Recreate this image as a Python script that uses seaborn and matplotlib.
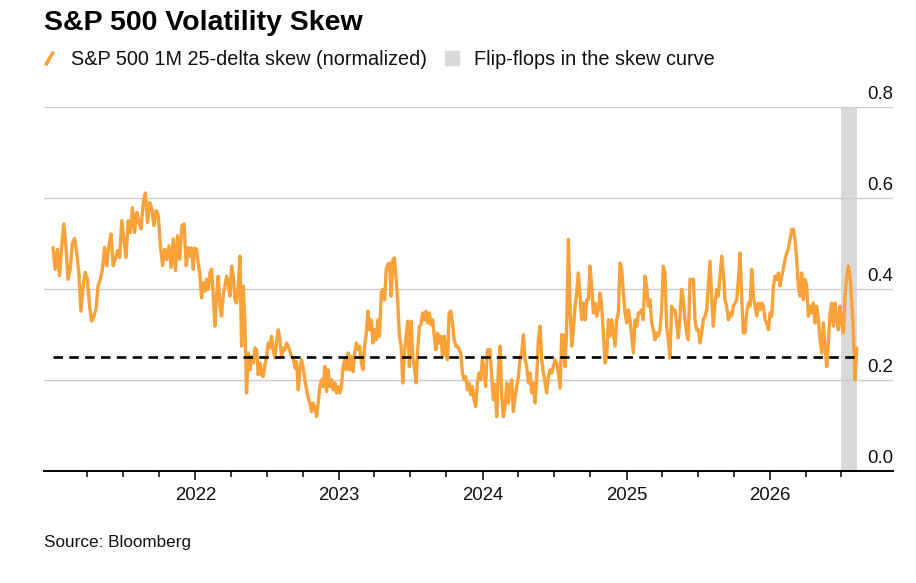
import numpy as np
import pandas as pd
import matplotlib
matplotlib.use("Agg")
import matplotlib.pyplot as plt
import matplotlib.transforms as mtransforms
from matplotlib.lines import Line2D
import seaborn as sns

# ---------------- data ----------------
title = "S&P 500 Volatility Skew"
series_label = "S&P 500 1M 25-delta skew (normalized)"
band_label = "Flip-flops in the skew curve"
source = "Source: Bloomberg"

seg_a_dates = ("2021-01-04", "2021-12-14")
seg_a = [0.491, 0.443, 0.487, 0.429, 0.491, 0.543, 0.495, 0.421, 0.443, 0.499,
         0.511, 0.48, 0.436, 0.351, 0.407, 0.436, 0.421, 0.362, 0.329, 0.34,
         0.355, 0.407, 0.421, 0.443, 0.491, 0.451, 0.495, 0.521, 0.451, 0.465,
         0.484, 0.469, 0.55, 0.51, 0.469, 0.55, 0.524, 0.579, 0.524, 0.568,
         0.546, 0.532, 0.59, 0.611, 0.546, 0.59, 0.576, 0.539, 0.572, 0.561,
         0.495, 0.451, 0.487, 0.465, 0.495, 0.447, 0.51, 0.44, 0.517, 0.465,
         0.539, 0.543, 0.451, 0.491]

seg_b_dates = ("2021-12-18", "2022-12-30")
seg_b = [0.472, 0.49, 0.443, 0.49, 0.487, 0.457, 0.43, 0.38, 0.413, 0.395,
         0.421, 0.399, 0.435, 0.443, 0.384, 0.318, 0.384, 0.428, 0.362, 0.34,
         0.387, 0.406, 0.428, 0.413, 0.384, 0.45, 0.428, 0.376, 0.369, 0.406,
         0.472, 0.274, 0.406, 0.325, 0.171, 0.259, 0.222, 0.251, 0.237, 0.27,
         0.266, 0.211, 0.237, 0.211, 0.207, 0.233, 0.251, 0.281, 0.27, 0.296,
         0.266, 0.248, 0.281, 0.31, 0.288, 0.251, 0.27, 0.266, 0.281, 0.274,
         0.263, 0.251, 0.248, 0.226, 0.24, 0.178, 0.222, 0.244, 0.226, 0.2,
         0.178, 0.16, 0.149, 0.13, 0.149, 0.138, 0.119, 0.149, 0.185, 0.2,
         0.185, 0.229, 0.174, 0.222, 0.185, 0.2, 0.178, 0.193, 0.171, 0.185]

seg_c_dates = ("2023-01-03", "2024-01-13")
seg_c = [0.171, 0.185, 0.229, 0.244, 0.222, 0.259, 0.222, 0.251, 0.218, 0.259,
         0.281, 0.266, 0.274, 0.237, 0.222, 0.274, 0.303, 0.351, 0.31, 0.332,
         0.281, 0.31, 0.288, 0.332, 0.296, 0.391, 0.399, 0.376, 0.443, 0.454,
         0.457, 0.384, 0.465, 0.468, 0.421, 0.369, 0.296, 0.274, 0.193, 0.259,
         0.296, 0.329, 0.229, 0.329, 0.251, 0.229, 0.193, 0.266, 0.318, 0.321,
         0.347, 0.332, 0.351, 0.325, 0.347, 0.321, 0.332, 0.296, 0.266, 0.303,
         0.281, 0.296, 0.251, 0.296, 0.259, 0.244, 0.347, 0.351, 0.325, 0.288,
         0.274, 0.274, 0.266, 0.259, 0.215, 0.2, 0.207, 0.178, 0.193, 0.167,
         0.185, 0.156, 0.141, 0.193, 0.215, 0.2, 0.244, 0.222, 0.185, 0.266]

seg_d_dates = ("2024-01-20", "2025-01-31")
seg_d = [0.266, 0.207, 0.156, 0.19, 0.119, 0.222, 0.274, 0.163, 0.119, 0.141,
         0.193, 0.149, 0.185, 0.2, 0.13, 0.163, 0.185, 0.207, 0.244, 0.259,
         0.299, 0.244, 0.229, 0.193, 0.215, 0.171, 0.193, 0.149, 0.207, 0.288,
         0.318, 0.244, 0.215, 0.193, 0.171, 0.207, 0.222, 0.215, 0.229, 0.244,
         0.237, 0.215, 0.182, 0.299, 0.299, 0.229, 0.318, 0.509, 0.36, 0.274,
         0.31, 0.362, 0.391, 0.435, 0.384, 0.332, 0.369, 0.332, 0.376, 0.376,
         0.45, 0.406, 0.347, 0.369, 0.34, 0.354, 0.391, 0.362, 0.303, 0.237,
         0.251, 0.332, 0.296, 0.332, 0.303, 0.274, 0.332, 0.347, 0.457, 0.443,
         0.391, 0.347, 0.325, 0.354, 0.332, 0.296, 0.259, 0.332, 0.318, 0.347]

seg_e_dates = ("2025-02-04", "2026-01-22")
seg_e = [0.347, 0.354, 0.332, 0.428, 0.406, 0.362, 0.376, 0.325, 0.31, 0.288,
         0.303, 0.296, 0.31, 0.354, 0.45, 0.435, 0.318, 0.288, 0.248, 0.362,
         0.354, 0.354, 0.325, 0.292, 0.34, 0.399, 0.376, 0.332, 0.303, 0.288,
         0.421, 0.421, 0.421, 0.332, 0.31, 0.31, 0.281, 0.303, 0.332, 0.34,
         0.354, 0.406, 0.461, 0.38, 0.318, 0.369, 0.399, 0.384, 0.428, 0.472,
         0.435, 0.376, 0.362, 0.332, 0.347, 0.34, 0.362, 0.369, 0.376, 0.421,
         0.479, 0.38, 0.303, 0.303, 0.347, 0.369, 0.362, 0.443, 0.384, 0.362,
         0.34, 0.369, 0.354, 0.369, 0.362, 0.332, 0.325, 0.31, 0.347, 0.34,
         0.406, 0.428, 0.421, 0.435]

seg_f_dates = ("2026-01-26", "2026-08-09")
seg_f = [0.406, 0.428, 0.443, 0.465, 0.479, 0.487, 0.509, 0.531, 0.531, 0.509,
         0.465, 0.406, 0.384, 0.435, 0.376, 0.421, 0.406, 0.34, 0.362, 0.347,
         0.369, 0.325, 0.362, 0.332, 0.288, 0.259, 0.325, 0.274, 0.229, 0.281,
         0.347, 0.369, 0.318, 0.369, 0.332, 0.31, 0.362, 0.325, 0.303, 0.384,
         0.428, 0.45, 0.428, 0.376, 0.303, 0.2, 0.27]

threshold = 0.25
band_start, band_end = "2026-07-01", "2026-08-11"
x_range = ("2020-12-12", "2026-11-10")
year_ticks = ["2022-01-01", "2023-01-01", "2024-01-01", "2025-01-01", "2026-01-01"]
year_labels = ["2022", "2023", "2024", "2025", "2026"]
quarter_ticks = ["2021-04-01", "2021-07-01", "2021-10-01",
                 "2022-04-01", "2022-07-01", "2022-10-01",
                 "2023-04-01", "2023-07-01", "2023-10-01",
                 "2024-04-01", "2024-07-01", "2024-10-01",
                 "2025-04-01", "2025-07-01", "2025-10-01",
                 "2026-04-01", "2026-07-01"]
y_ticks = [0.0, 0.2, 0.4, 0.6, 0.8]
y_labels = ["0.0", "0.2", "0.4", "0.6", "0.8"]

# ---------------- build frame ----------------
segments = [(seg_a_dates, seg_a), (seg_b_dates, seg_b), (seg_c_dates, seg_c),
            (seg_d_dates, seg_d), (seg_e_dates, seg_e), (seg_f_dates, seg_f)]
frames = []
for (d0, d1), vals in segments:
    frames.append(pd.DataFrame({"date": pd.date_range(d0, d1, periods=len(vals)),
                                "skew": vals}))
df = pd.concat(frames, ignore_index=True)

# ---------------- style ----------------
sns.set_style("white")
plt.rcParams["font.family"] = ["Liberation Sans", "DejaVu Sans"]
ORANGE = "#F9A23A"
GREY = "#D9D9D9"
TXT = "#111111"

fig = plt.figure(figsize=(9.16, 5.83), dpi=100)
ax = fig.add_axes([0.048, 0.1926, 0.9272, 0.6238])

ax.axvspan(pd.Timestamp(band_start), pd.Timestamp(band_end), color=GREY, lw=0, zorder=0)
for v in y_ticks[1:]:
    ax.axhline(v, color="#CCCCCC", lw=1.0, zorder=1)

sns.lineplot(data=df, x="date", y="skew", ax=ax, color=ORANGE, lw=2.4,
             estimator=None, errorbar=None, zorder=3)
ax.hlines(threshold, df["date"].min(), df["date"].max(), colors="black",
          linestyles=(0, (3.6, 2.4)), lw=1.9, zorder=4)

ax.set_xlim(pd.Timestamp(x_range[0]), pd.Timestamp(x_range[1]))
ax.set_ylim(0, 0.8)
ax.set_xlabel("")
ax.set_ylabel("")
ax.set_yticks([])
ax.set_xticks(pd.to_datetime(year_ticks))
ax.set_xticklabels(year_labels, fontsize=13.4, color=TXT)
ax.set_xticks(pd.to_datetime(quarter_ticks), minor=True)
ax.tick_params(axis="x", which="major", direction="out", length=6.5, width=1.1,
               color="black", pad=5, bottom=True)
ax.tick_params(axis="x", which="minor", direction="out", length=4.3, width=1.1,
               color="black", bottom=True)
for s in ["top", "left", "right"]:
    ax.spines[s].set_visible(False)
ax.spines["bottom"].set_color("black")
ax.spines["bottom"].set_linewidth(1.4)
ax.spines["bottom"].set_zorder(5)

ytrans = mtransforms.offset_copy(ax.get_yaxis_transform(), fig=fig, y=3, units="points")
for v, lab in zip(y_ticks, y_labels):
    ax.text(1.0, v, lab, transform=ytrans, ha="right", va="bottom",
            fontsize=13.4, color=TXT)

fig.text(0.048, 0.9485, title, fontsize=20.5, fontweight="bold", color="black",
         va="baseline", ha="left")

handles = [Line2D([0], [0], color=ORANGE, lw=0, marker=(2, 2, -30),
                  markersize=11, markeredgewidth=2.2),
           Line2D([0], [0], color=GREY, lw=0, marker="s", markersize=10)]
fig.legend(handles, [series_label, band_label], loc="upper left",
           bbox_to_anchor=(0.044, 0.915), ncol=2, frameon=False, fontsize=14.3,
           handlelength=0.9, handletextpad=0.65, columnspacing=0.8,
           borderaxespad=0, borderpad=0, labelcolor=TXT)

fig.text(0.048, 0.0617, source, fontsize=12.3, color=TXT, va="baseline", ha="left")

fig.savefig("out.png", dpi=100)
